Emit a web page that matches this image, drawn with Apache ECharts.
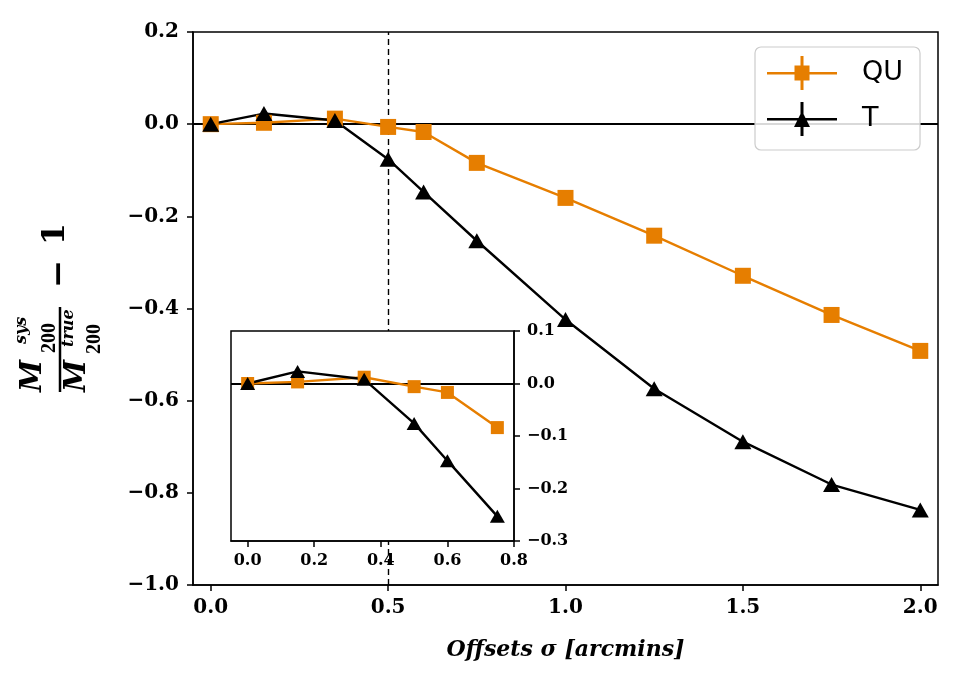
<!DOCTYPE html>
<html>
<head>
<meta charset="utf-8">
<script src="https://cdn.jsdelivr.net/npm/echarts@6/dist/echarts.min.js"></script>
<style>
html,body{margin:0;padding:0;background:#fff;}
#chart{width:969px;height:688px;}
</style>
</head>
<body>
<div id="chart"></div>
<script>
// ---- data ----
var offsets = [0, 0.15, 0.35, 0.5, 0.6, 0.75, 1.0, 1.25, 1.5, 1.75, 2.0];
var quValues = [0.0, 0.003, 0.012, -0.006, -0.017, -0.084, -0.160, -0.242, -0.329, -0.414, -0.492];
var tValues = [0.0, 0.023, 0.008, -0.076, -0.147, -0.253, -0.424, -0.574, -0.689, -0.782, -0.837];
var seriesNames = ['QU', 'T'];
var mainXTicks = [0, 0.5, 1.0, 1.5, 2.0];
var insetXTicks = [0, 0.2, 0.4, 0.6, 0.8];
var refLineY = 0;
var refLineX = 0.5;
var insetMaxX = 0.8;

// ---- styling ----
var ORANGE = '#e67e00';
var BLACK = '#000000';
var tickFont = '"DejaVu Serif"';

function pairs(xs, ys, maxX) {
  var out = [];
  for (var i = 0; i < xs.length; i++) {
    if (maxX === undefined || xs[i] <= maxX) out.push([xs[i], ys[i]]);
  }
  return out;
}
function fmt(v) {
  if (Math.abs(v) < 1e-9) return '0.0';
  var s = v.toFixed(1);
  return s.replace('-', '\u2212');
}

var quIcon = 'path://M0,16H70V18.5H0Z M27.5,9.5H42.5V24.5H27.5Z M33.5,0H36.5V34H33.5Z';
var tIcon = 'path://M0,16H70V18.5H0Z M27,25L35,9L43,25Z M33.5,0H36.5V34H33.5Z';

var chart = echarts.init(document.getElementById('chart'), null, {renderer: 'canvas'});

var axisLineStyle = {color: BLACK, width: 1.5};

var option = {
  animation: false,
  backgroundColor: '#ffffff',
  grid: [
    {left: 193, right: 31, top: 32, bottom: 103, show: true, borderColor: BLACK, borderWidth: 1.5, backgroundColor: 'transparent', containLabel: false},
    {left: 231, top: 331, width: 283, height: 210, show: true, borderColor: BLACK, borderWidth: 1.5, backgroundColor: '#ffffff', z: 5, containLabel: false}
  ],
  xAxis: [
    {
      type: 'value', gridIndex: 0, min: -0.05, max: 2.05,
      axisLine: {show: true, onZero: false, lineStyle: axisLineStyle},
      axisTick: {show: true, length: 6, lineStyle: {color: BLACK, width: 1.5}, customValues: mainXTicks},
      axisLabel: {show: true, margin: 13, customValues: mainXTicks, formatter: fmt,
        fontFamily: tickFont, fontWeight: 'bold', fontSize: 20, color: BLACK},
      splitLine: {show: false},
      name: 'Offsets \u03c3 [arcmins]', nameLocation: 'middle', nameGap: 54,
      nameTextStyle: {fontFamily: tickFont, fontStyle: 'italic', fontWeight: 'bold', fontSize: 22, color: BLACK}
    },
    {
      type: 'value', gridIndex: 1, min: -0.05, max: 0.8, z: 6,
      axisLine: {show: true, onZero: false, lineStyle: axisLineStyle},
      axisTick: {show: true, length: 6, lineStyle: {color: BLACK, width: 1.5}, customValues: insetXTicks},
      axisLabel: {show: true, margin: 12, customValues: insetXTicks, formatter: fmt,
        fontFamily: tickFont, fontWeight: 'bold', fontSize: 16, color: BLACK},
      splitLine: {show: false}
    }
  ],
  yAxis: [
    {
      type: 'value', gridIndex: 0, min: -1.0, max: 0.2, interval: 0.2,
      axisLine: {show: true, onZero: false, lineStyle: axisLineStyle},
      axisTick: {show: true, length: 6, lineStyle: {color: BLACK, width: 1.5}},
      axisLabel: {show: true, margin: 14, formatter: fmt,
        fontFamily: tickFont, fontWeight: 'bold', fontSize: 20, color: BLACK},
      splitLine: {show: false}
    },
    {
      type: 'value', gridIndex: 1, min: -0.3, max: 0.1, interval: 0.1, position: 'right', z: 6,
      axisLine: {show: true, onZero: false, lineStyle: axisLineStyle},
      axisTick: {show: true, length: 6, lineStyle: {color: BLACK, width: 1.5}},
      axisLabel: {show: true, margin: 13, formatter: fmt,
        fontFamily: tickFont, fontWeight: 'bold', fontSize: 16, color: BLACK},
      splitLine: {show: false}
    }
  ],
  legend: {
    orient: 'vertical', left: 755, top: 47,
    padding: [9, 17, 14, 12],
    itemWidth: 70, itemHeight: 34, itemGap: 12,
    backgroundColor: 'rgba(255,255,255,0.85)',
    borderColor: '#cccccc', borderWidth: 1.2, borderRadius: 6,
    itemStyle: {borderWidth: 0},
    textStyle: {fontFamily: '"DejaVu Sans"', fontSize: 27, color: BLACK, padding: [0, 0, 0, 20]},
    data: [{name: seriesNames[0], icon: quIcon}, {name: seriesNames[1], icon: tIcon}],
    z: 10
  },
  series: [
    {
      name: seriesNames[0], type: 'line', xAxisIndex: 0, yAxisIndex: 0,
      data: pairs(offsets, quValues),
      color: ORANGE,
      lineStyle: {color: ORANGE, width: 2.4},
      itemStyle: {color: ORANGE},
      symbol: 'rect', symbolSize: 16, z: 3,
      markLine: {
        silent: true, symbol: 'none', label: {show: false}, z: 2,
        data: [
          {yAxis: refLineY, lineStyle: {color: BLACK, width: 2.2, type: 'solid'}},
          {xAxis: refLineX, lineStyle: {color: BLACK, width: 1.4, type: [6, 4]}}
        ]
      }
    },
    {
      name: seriesNames[1], type: 'line', xAxisIndex: 0, yAxisIndex: 0,
      data: pairs(offsets, tValues),
      color: BLACK,
      lineStyle: {color: BLACK, width: 2.4},
      itemStyle: {color: BLACK},
      symbol: 'triangle', symbolSize: [17, 15], z: 3
    },
    {
      name: seriesNames[0], type: 'line', xAxisIndex: 1, yAxisIndex: 1,
      data: pairs(offsets, quValues, insetMaxX),
      color: ORANGE,
      lineStyle: {color: ORANGE, width: 2.4},
      itemStyle: {color: ORANGE},
      symbol: 'rect', symbolSize: 13, z: 8,
      markLine: {
        silent: true, symbol: 'none', label: {show: false}, z: 7,
        data: [{yAxis: refLineY, lineStyle: {color: BLACK, width: 2.2, type: 'solid'}}]
      }
    },
    {
      name: seriesNames[1], type: 'line', xAxisIndex: 1, yAxisIndex: 1,
      data: pairs(offsets, tValues, insetMaxX),
      color: BLACK,
      lineStyle: {color: BLACK, width: 2.4},
      itemStyle: {color: BLACK},
      symbol: 'triangle', symbolSize: [15, 13], z: 8
    }
  ],
  graphic: [
    {
      type: 'group', x: 60, y: 392, rotation: Math.PI / 2,
      children: [
        {type: 'line', shape: {x1: 0, y1: 0, x2: 85, y2: 0}, style: {stroke: BLACK, lineWidth: 2.5}},
        {type: 'text', x: 0, y: -27, style: {text: 'M', font: 'italic bold 29px "DejaVu Serif"', fill: BLACK, align: 'left', verticalAlign: 'middle'}},
        {type: 'text', x: 48, y: -38, style: {text: 'sys', font: 'italic bold 16px "DejaVu Serif"', fill: BLACK, align: 'left', verticalAlign: 'middle'}},
        {type: 'text', x: 39, y: -10, style: {text: '200', font: 'bold 20px "Liberation Serif"', fill: BLACK, align: 'left', verticalAlign: 'middle'}},
        {type: 'text', x: 0, y: 17, style: {text: 'M', font: 'italic bold 29px "DejaVu Serif"', fill: BLACK, align: 'left', verticalAlign: 'middle'}},
        {type: 'text', x: 45, y: 9, style: {text: 'true', font: 'italic bold 16px "DejaVu Serif"', fill: BLACK, align: 'left', verticalAlign: 'middle'}},
        {type: 'text', x: 38, y: 35, style: {text: '200', font: 'bold 20px "Liberation Serif"', fill: BLACK, align: 'left', verticalAlign: 'middle'}},
        {type: 'text', x: 118, y: 0, style: {text: '\u2212', font: 'bold 34px "DejaVu Serif"', fill: BLACK, align: 'center', verticalAlign: 'middle'}},
        {type: 'text', x: 158, y: -4, style: {text: '1', font: 'bold 32px "DejaVu Serif"', fill: BLACK, align: 'center', verticalAlign: 'middle'}}
      ]
    }
  ]
};
chart.setOption(option);
</script>
</body>
</html>
